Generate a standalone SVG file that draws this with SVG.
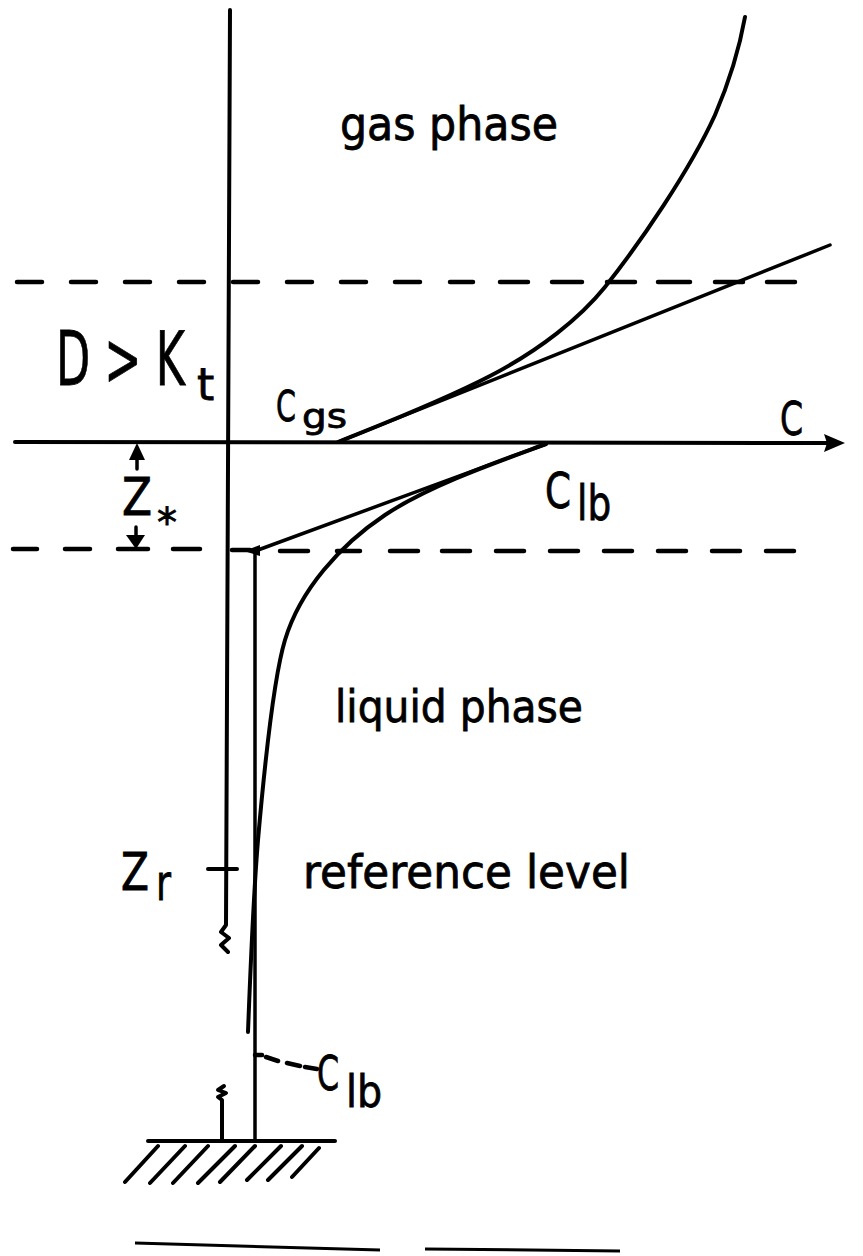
<svg xmlns="http://www.w3.org/2000/svg" width="863" height="1256" viewBox="0 0 863 1256">
<style>
.ln{stroke:#000;stroke-width:4;fill:none;stroke-linecap:round;stroke-linejoin:round}
.th{stroke:#000;stroke-width:3.5;fill:none;stroke-linecap:round}
.ds{stroke:#000;stroke-width:4.5;fill:none;stroke-linecap:round}
.t{font-family:"DejaVu Sans","Liberation Sans",sans-serif;fill:#000;stroke:#000;stroke-width:0.8}
</style>
<rect width="863" height="1256" fill="#fff"/>
<g id="axes">
<path class="ln" d="M230,10 L226,925 L221,932 L229,938 L221,945 L228,952"/>
<path class="ln" d="M15,442 L830,443"/>
<path d="M845,443 L824,434 L827,443 L824,452 Z" fill="#000"/>
<path class="ln" d="M208,869 L237,869"/>
</g>
<g id="dashed-lines">
<path class="ds" d="M17,282h25M71,282h25M125,282h25M179,282h25M233,282h25M287,282h25M341,282h25M395,282h25M450,282h23M500,282h28M552,282h30M607,282h28M658,282h32M715,282h28M767,282h28"/>
<path class="ds" d="M13,549h24M65,549h25M118,549h30M173,549h27M232,550h18M280,551h28M337,551h23M390,551h28M442,551h28M496,551h28M550,551h28M604,551h28M658,551h28M712,551h28M766,551h28"/>
</g>
<g id="tangents">
<path class="th" d="M338,442 L830,245"/>
<path class="th" d="M258,550 L546,444"/>
<path d="M244,551 L260,545 L260,556 Z" fill="#000"/>
</g>
<g id="profiles">
<path class="ln" d="M338,442 C380,425 440,402 490,376 C540,350 580,318 605,287 C640,243 690,170 715,115 C730,80 740,45 745,17"/>
<path class="ln" d="M546,444 C500,461 430,485 385,515 C340,545 300,590 285,640 C275,673 265,760 258,840 C253,900 250,980 248,1032"/>
<path class="th" d="M255,551 L255,1141"/>
</g>
<g id="z-star">
<path class="th" d="M137,458 L137,469"/>
<path d="M137,443 L129,460 L145,460 Z" fill="#000"/>
<path class="th" d="M136,527 L136,537"/>
<path d="M136,549 L126,535 L145,535 Z" fill="#000"/>
</g>
<g id="ground">
<path class="ln" d="M222,1141 L222,1100 L218,1097 L226,1093 L218,1090 L224,1086"/>
<path class="ln" d="M148,1141 L335,1141"/>
<path class="ln" d="M158,1146 L125,1182M185,1146 L150,1183M208,1146 L173,1183M235,1146 L198,1183M255,1146 L220,1182M281,1146 L247,1180M302,1146 L268,1180M319,1148 L292,1177"/>
<path class="ds" d="M255,1055 L262,1055M266,1057 L278,1061M287,1063 L300,1066M305,1067 L317,1069"/>
</g>
<g id="bottom-rule">
<path stroke="#000" stroke-width="3" fill="none" d="M135,1243 L380,1250M425,1249 L620,1251"/>
</g>
<g id="labels">
<text class="t" x="340" y="140" font-size="46" textLength="218" lengthAdjust="spacingAndGlyphs">gas phase</text>
<text class="t" transform="translate(56,385) scale(0.593,1)" font-size="75">D &gt; K</text>
<text class="t" x="197" y="400" font-size="44">t</text>
<text class="t" transform="translate(276,421) scale(0.68,1)" font-size="42">C</text>
<text class="t" x="302" y="428" font-size="33" textLength="45" lengthAdjust="spacingAndGlyphs">gs</text>
<text class="t" transform="translate(780,435) scale(0.72,1)" font-size="46">C</text>
<text class="t" transform="translate(545,508) scale(0.745,1)" font-size="50">C</text>
<text class="t" transform="translate(577,520) scale(0.78,1)" font-size="48">lb</text>
<text class="t" transform="translate(122,515) scale(0.86,1)" font-size="51">Z</text>
<text class="t" x="157" y="537" font-size="40">*</text>
<text class="t" x="335" y="722" font-size="44" textLength="248" lengthAdjust="spacingAndGlyphs">liquid phase</text>
<text class="t" x="303" y="888" font-size="46" textLength="327" lengthAdjust="spacingAndGlyphs">reference level</text>
<text class="t" transform="translate(121,890) scale(0.8,1)" font-size="51">Z</text>
<text class="t" transform="translate(156,900) scale(0.73,1)" font-size="50">r</text>
<text class="t" transform="translate(317,1090) scale(0.66,1)" font-size="48">C</text>
<text class="t" transform="translate(346,1107) scale(0.88,1)" font-size="45">lb</text>
</g>
</svg>
